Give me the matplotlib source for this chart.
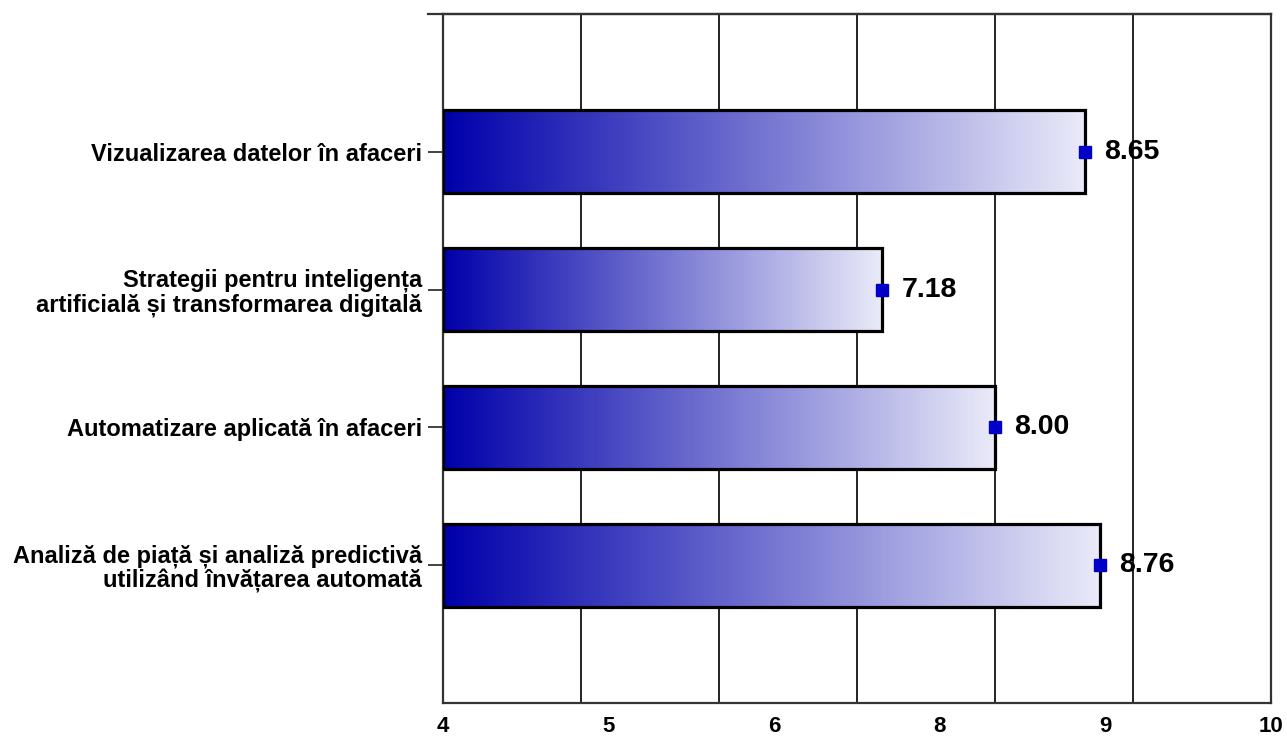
import numpy as np
import matplotlib
matplotlib.use("Agg")
from matplotlib import pyplot as plt
from matplotlib.colors import LinearSegmentedColormap
from matplotlib.lines import Line2D

categories = [
    "Vizualizarea datelor în afaceri",
    "Strategii pentru inteligența\nartificială și transformarea digitală",
    "Automatizare aplicată în afaceri",
    "Analiză de piață și analiză predictivă\nutilizând învățarea automată",
]
values = [8.65, 7.18, 8.00, 8.76]
x_min = 4
x_max = 10

plt.rcParams['font.family'] = ['Liberation Sans', 'DejaVu Sans']

fig = plt.figure(figsize=(12.87, 7.42), dpi=100)
ax = fig.add_axes([443 / 1287, 39 / 742, 828 / 1287, 689 / 742])

cmap = LinearSegmentedColormap.from_list("bluegrad", ["#0000AA", "#EAEAF9"])
grad = np.linspace(0, 1, 256).reshape(1, -1)
bar_h = 0.6
ypos = np.arange(1, len(values) + 1)

for y, v in zip(ypos, values):
    ax.imshow(grad, cmap=cmap, aspect='auto', interpolation='bilinear',
              extent=(x_min, v, y + bar_h / 2, y - bar_h / 2), zorder=2)
ax.barh(ypos, np.array(values) - x_min, left=x_min, height=bar_h,
        facecolor='none', edgecolor='black', linewidth=2.3, zorder=3)
ax.plot(values, ypos, 's', color='#0000C8', markersize=9, zorder=4, linestyle='none')
for y, v in zip(ypos, values):
    ax.annotate(f"{v:.2f}", (v, y), xytext=(14, 0), textcoords='offset points',
                ha='left', va='center', fontsize=20.5, fontweight='bold', zorder=5)

ax.set_xlim(x_min, x_max)
ax.set_ylim(len(values) + 1, 0)

# vertical grid at each unit
for gx in range(x_min + 1, x_max):
    ax.axvline(gx, color='#111111', linewidth=1.3, zorder=1)

# tick labels are placed at 5 equal steps and rounded
xt = np.linspace(x_min, x_max, 6)
ax.set_xticks(xt)
ax.set_xticklabels([f"{t:.0f}" for t in xt], fontsize=16, fontweight='bold',
                   family=['Liberation Sans Narrow', 'Liberation Sans'])
ax.tick_params(axis='x', length=0, pad=9)

ax.set_yticks(ypos)
ax.set_yticklabels(categories, fontsize=17, fontweight='bold', linespacing=1.05)
ax.tick_params(axis='y', length=11, width=1.3, color='#333333', pad=4)

for s in ax.spines.values():
    s.set_color('#333333')
    s.set_linewidth(1.6)

# top line extends left past the axis
ax.add_line(Line2D([-15 / 828, 1], [1, 1], transform=ax.transAxes,
                   color='#333333', linewidth=1.6, clip_on=False))

fig.savefig("out.png", dpi=100)
